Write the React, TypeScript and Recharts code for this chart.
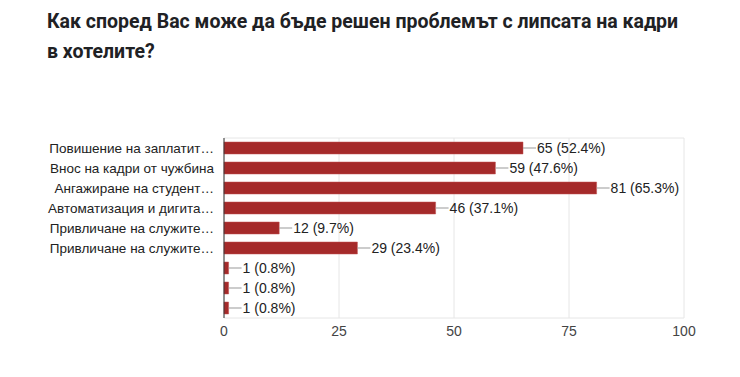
import { Bar, BarChart, CartesianGrid, LabelList, XAxis, YAxis } from "recharts";

// Survey answers: how the staff shortage in hotels could be solved.
const categories = [
  "Повишение на заплатит…",
  "Внос на кадри от чужбина",
  "Ангажиране на студент…",
  "Автоматизация и дигита…",
  "Привличане на служите…",
  "Привличане на служите…",
  "",
  " ",
  "  ",
];
const counts = [65, 59, 81, 46, 12, 29, 1, 1, 1];
const percents = ["52.4%", "47.6%", "65.3%", "37.1%", "9.7%", "23.4%", "0.8%", "0.8%", "0.8%"];
const xTicks = [0, 25, 50, 75, 100];

const data = categories.map((name, i) => ({
  name,
  count: counts[i],
  label: `${counts[i]} (${percents[i]})`,
}));

const FONT = "Arial, 'Liberation Sans', sans-serif";

function ValueLabel(props: any) {
  const { x, y, width, height, value } = props;
  const x0 = x + width;
  const cy = y + height / 2;
  return (
    <g>
      <line x1={x0} x2={x0 + 13} y1={cy} y2={cy} stroke="#999" strokeWidth={1} />
      <text
        x={x0 + 14}
        y={cy}
        dy="0.35em"
        fontSize={14}
        fontFamily={FONT}
        fill="#222"
      >
        {value}
      </text>
    </g>
  );
}

export default function App() {
  return (
    <div
      style={{
        position: "absolute",
        left: 0,
        top: 0,
        width: 740,
        height: 377,
        background: "#fff",
        overflow: "hidden",
      }}
    >
      <div
        style={{
          position: "absolute",
          left: 47,
          top: 7,
          width: 690,
          fontFamily: "Roboto, sans-serif",
          fontWeight: 700,
          fontSize: 19.5,
          lineHeight: "30px",
          color: "#202124",
        }}
      >
        Как според Вас може да бъде решен проблемът с липсата на кадри
        <br />в хотелите?
      </div>
      <BarChart
        width={740}
        height={377}
        data={data}
        layout="vertical"
        barCategoryGap="20%"
        margin={{ top: 138, right: 56, bottom: 29, left: 24 }}
      >
        <CartesianGrid
          stroke="#e6e6e6"
          horizontalCoordinatesGenerator={({ offset }: any) => [
            offset.top,
            offset.top + offset.height,
          ]}
        />
        <XAxis
          type="number"
          domain={[0, 100]}
          ticks={xTicks}
          axisLine={false}
          tickLine={false}
          tick={{ fontSize: 14, fontFamily: FONT, fill: "#444" }}
          height={30}
        />
        <YAxis
          type="category"
          dataKey="name"
          width={200}
          axisLine={{ stroke: "#333" }}
          tickLine={false}
          interval={0}
          tick={{ fontSize: 13.5, fontFamily: FONT, fill: "#222" }}
          tickMargin={4}
        />
        <Bar
          dataKey="count"
          fill="#a52a2a"
          stroke="#c05050"
          strokeWidth={0.5}
          isAnimationActive={false}
        >
          <LabelList dataKey="label" content={ValueLabel} />
        </Bar>
      </BarChart>
    </div>
  );
}
